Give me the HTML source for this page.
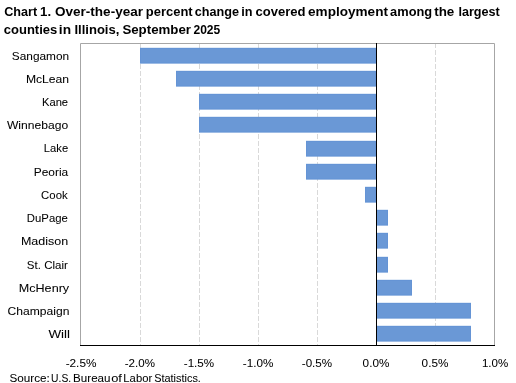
<!DOCTYPE html>
<html><head><meta charset="utf-8"><style>
html,body{margin:0;padding:0;background:#fff;}
svg{display:block;will-change:transform;}
text{font-family:"Liberation Sans",sans-serif;white-space:pre;}
.r{fill:#000;stroke:#000;stroke-width:0.05px;}
.b{font-weight:bold;fill:#000;}
</style></head><body>
<svg width="516" height="383" viewBox="0 0 516 383">
<rect x="0" y="0" width="516" height="383" fill="#fff"/>
<line x1="140.50" y1="43" x2="140.50" y2="345" stroke="#d9d9d9" stroke-width="1" stroke-dasharray="5,2"/>
<line x1="199.50" y1="43" x2="199.50" y2="345" stroke="#d9d9d9" stroke-width="1" stroke-dasharray="5,2"/>
<line x1="258.50" y1="43" x2="258.50" y2="345" stroke="#d9d9d9" stroke-width="1" stroke-dasharray="5,2"/>
<line x1="317.50" y1="43" x2="317.50" y2="345" stroke="#d9d9d9" stroke-width="1" stroke-dasharray="5,2"/>
<line x1="435.50" y1="43" x2="435.50" y2="345" stroke="#d9d9d9" stroke-width="1" stroke-dasharray="5,2"/>
<path d="M80.5,345.5 V43.5 H494.5 V345.5" fill="none" stroke="#a6a6a6" stroke-width="1"/>
<rect x="140" y="47.90" width="236" height="15.5" fill="#6a98d6"/>
<rect x="140.5" y="48.40" width="235" height="14.5" fill="none" stroke="#6594d5" stroke-width="1"/>
<rect x="176" y="70.90" width="200" height="15.5" fill="#6a98d6"/>
<rect x="176.5" y="71.40" width="199" height="14.5" fill="none" stroke="#6594d5" stroke-width="1"/>
<rect x="199" y="93.90" width="177" height="15.5" fill="#6a98d6"/>
<rect x="199.5" y="94.40" width="176" height="14.5" fill="none" stroke="#6594d5" stroke-width="1"/>
<rect x="199" y="116.90" width="177" height="15.5" fill="#6a98d6"/>
<rect x="199.5" y="117.40" width="176" height="14.5" fill="none" stroke="#6594d5" stroke-width="1"/>
<rect x="306" y="140.90" width="70" height="15.5" fill="#6a98d6"/>
<rect x="306.5" y="141.40" width="69" height="14.5" fill="none" stroke="#6594d5" stroke-width="1"/>
<rect x="306" y="163.90" width="70" height="15.5" fill="#6a98d6"/>
<rect x="306.5" y="164.40" width="69" height="14.5" fill="none" stroke="#6594d5" stroke-width="1"/>
<rect x="365" y="186.90" width="11" height="15.5" fill="#6a98d6"/>
<rect x="365.5" y="187.40" width="10" height="14.5" fill="none" stroke="#6594d5" stroke-width="1"/>
<rect x="376" y="209.90" width="12" height="15.5" fill="#6a98d6"/>
<rect x="376.5" y="210.40" width="11" height="14.5" fill="none" stroke="#6594d5" stroke-width="1"/>
<rect x="376" y="232.90" width="12" height="15.5" fill="#6a98d6"/>
<rect x="376.5" y="233.40" width="11" height="14.5" fill="none" stroke="#6594d5" stroke-width="1"/>
<rect x="376" y="256.90" width="12" height="15.5" fill="#6a98d6"/>
<rect x="376.5" y="257.40" width="11" height="14.5" fill="none" stroke="#6594d5" stroke-width="1"/>
<rect x="376" y="279.90" width="36" height="15.5" fill="#6a98d6"/>
<rect x="376.5" y="280.40" width="35" height="14.5" fill="none" stroke="#6594d5" stroke-width="1"/>
<rect x="376" y="302.90" width="95" height="15.5" fill="#6a98d6"/>
<rect x="376.5" y="303.40" width="94" height="14.5" fill="none" stroke="#6594d5" stroke-width="1"/>
<rect x="376" y="325.90" width="95" height="15.5" fill="#6a98d6"/>
<rect x="376.5" y="326.40" width="94" height="14.5" fill="none" stroke="#6594d5" stroke-width="1"/>
<line x1="376.5" y1="43" x2="376.5" y2="345.5" stroke="#000" stroke-width="1"/>
<line x1="80" y1="345.5" x2="495" y2="345.5" stroke="#000" stroke-width="1"/>
<text x="11.87" y="60.00" textLength="57.23" lengthAdjust="spacingAndGlyphs" class="r" font-size="11">Sangamon</text>
<text x="25.90" y="83.00" textLength="43.19" lengthAdjust="spacingAndGlyphs" class="r" font-size="11">McLean</text>
<text x="41.98" y="106.00" textLength="26.10" lengthAdjust="spacingAndGlyphs" class="r" font-size="11">Kane</text>
<text x="6.94" y="129.00" textLength="61.17" lengthAdjust="spacingAndGlyphs" class="r" font-size="11">Winnebago</text>
<text x="43.88" y="152.00" textLength="24.31" lengthAdjust="spacingAndGlyphs" class="r" font-size="11">Lake</text>
<text x="33.82" y="176.00" textLength="34.39" lengthAdjust="spacingAndGlyphs" class="r" font-size="11">Peoria</text>
<text x="41.13" y="199.00" textLength="26.56" lengthAdjust="spacingAndGlyphs" class="r" font-size="11">Cook</text>
<text x="26.87" y="222.00" textLength="40.93" lengthAdjust="spacingAndGlyphs" class="r" font-size="11">DuPage</text>
<text x="20.97" y="245.00" textLength="47.17" lengthAdjust="spacingAndGlyphs" class="r" font-size="11">Madison</text>
<text x="26.88" y="269.00" textLength="41.01" lengthAdjust="spacingAndGlyphs" class="r" font-size="11">St. Clair</text>
<text x="18.76" y="292.00" textLength="50.38" lengthAdjust="spacingAndGlyphs" class="r" font-size="11">McHenry</text>
<text x="7.60" y="315.00" textLength="61.81" lengthAdjust="spacingAndGlyphs" class="r" font-size="11">Champaign</text>
<text x="48.43" y="338.00" textLength="21.58" lengthAdjust="spacingAndGlyphs" class="r" font-size="11">Will</text>
<text x="65.67" y="366.60" textLength="30.77" lengthAdjust="spacingAndGlyphs" class="r" font-size="11">-2.5%</text>
<text x="124.78" y="366.60" textLength="30.15" lengthAdjust="spacingAndGlyphs" class="r" font-size="11">-2.0%</text>
<text x="183.78" y="366.60" textLength="30.36" lengthAdjust="spacingAndGlyphs" class="r" font-size="11">-1.5%</text>
<text x="242.77" y="366.60" textLength="30.56" lengthAdjust="spacingAndGlyphs" class="r" font-size="11">-1.0%</text>
<text x="301.78" y="366.60" textLength="30.36" lengthAdjust="spacingAndGlyphs" class="r" font-size="11">-0.5%</text>
<text x="362.63" y="366.60" textLength="26.70" lengthAdjust="spacingAndGlyphs" class="r" font-size="11">0.0%</text>
<text x="421.63" y="366.60" textLength="26.70" lengthAdjust="spacingAndGlyphs" class="r" font-size="11">0.5%</text>
<text x="481.93" y="366.60" textLength="26.29" lengthAdjust="spacingAndGlyphs" class="r" font-size="11">1.0%</text>
<text x="9.57" y="382.00" textLength="40.29" lengthAdjust="spacingAndGlyphs" class="r" font-size="10">Source:</text>
<text x="51.10" y="382.00" textLength="20.02" lengthAdjust="spacingAndGlyphs" class="r" font-size="10">U.S.</text>
<text x="73.14" y="382.00" textLength="37.33" lengthAdjust="spacingAndGlyphs" class="r" font-size="10">Bureau</text>
<text x="111.15" y="382.00" textLength="10.73" lengthAdjust="spacingAndGlyphs" class="r" font-size="10">of</text>
<text x="123.37" y="382.00" textLength="28.80" lengthAdjust="spacingAndGlyphs" class="r" font-size="10">Labor</text>
<text x="154.21" y="382.00" textLength="46.69" lengthAdjust="spacingAndGlyphs" class="r" font-size="10">Statistics.</text>
<text x="4.19" y="15.70" textLength="32.98" lengthAdjust="spacingAndGlyphs" class="b" font-size="12.5">Chart</text>
<text x="40.07" y="15.70" textLength="11.04" lengthAdjust="spacingAndGlyphs" class="b" font-size="12.5">1.</text>
<text x="55.06" y="15.70" textLength="87.92" lengthAdjust="spacingAndGlyphs" class="b" font-size="12.5">Over-the-year</text>
<text x="145.86" y="15.70" textLength="46.80" lengthAdjust="spacingAndGlyphs" class="b" font-size="12.5">percent</text>
<text x="194.69" y="15.70" textLength="44.33" lengthAdjust="spacingAndGlyphs" class="b" font-size="12.5">change</text>
<text x="241.21" y="15.70" textLength="11.26" lengthAdjust="spacingAndGlyphs" class="b" font-size="12.5">in</text>
<text x="255.48" y="15.70" textLength="50.08" lengthAdjust="spacingAndGlyphs" class="b" font-size="12.5">covered</text>
<text x="308.06" y="15.70" textLength="79.92" lengthAdjust="spacingAndGlyphs" class="b" font-size="12.5">employment</text>
<text x="390.12" y="15.70" textLength="42.02" lengthAdjust="spacingAndGlyphs" class="b" font-size="12.5">among</text>
<text x="434.23" y="15.70" textLength="20.10" lengthAdjust="spacingAndGlyphs" class="b" font-size="12.5">the</text>
<text x="458.42" y="15.70" textLength="41.33" lengthAdjust="spacingAndGlyphs" class="b" font-size="12.5">largest</text>
<text x="3.78" y="33.90" textLength="53.47" lengthAdjust="spacingAndGlyphs" class="b" font-size="12.5">counties</text>
<text x="58.84" y="33.90" textLength="12.20" lengthAdjust="spacingAndGlyphs" class="b" font-size="12.5">in</text>
<text x="74.42" y="33.90" textLength="44.96" lengthAdjust="spacingAndGlyphs" class="b" font-size="12.5">Illinois,</text>
<text x="122.40" y="33.90" textLength="68.58" lengthAdjust="spacingAndGlyphs" class="b" font-size="12.5">September</text>
<text x="193.48" y="33.90" textLength="26.78" lengthAdjust="spacingAndGlyphs" class="b" font-size="12.5">2025</text>
</svg></body></html>
